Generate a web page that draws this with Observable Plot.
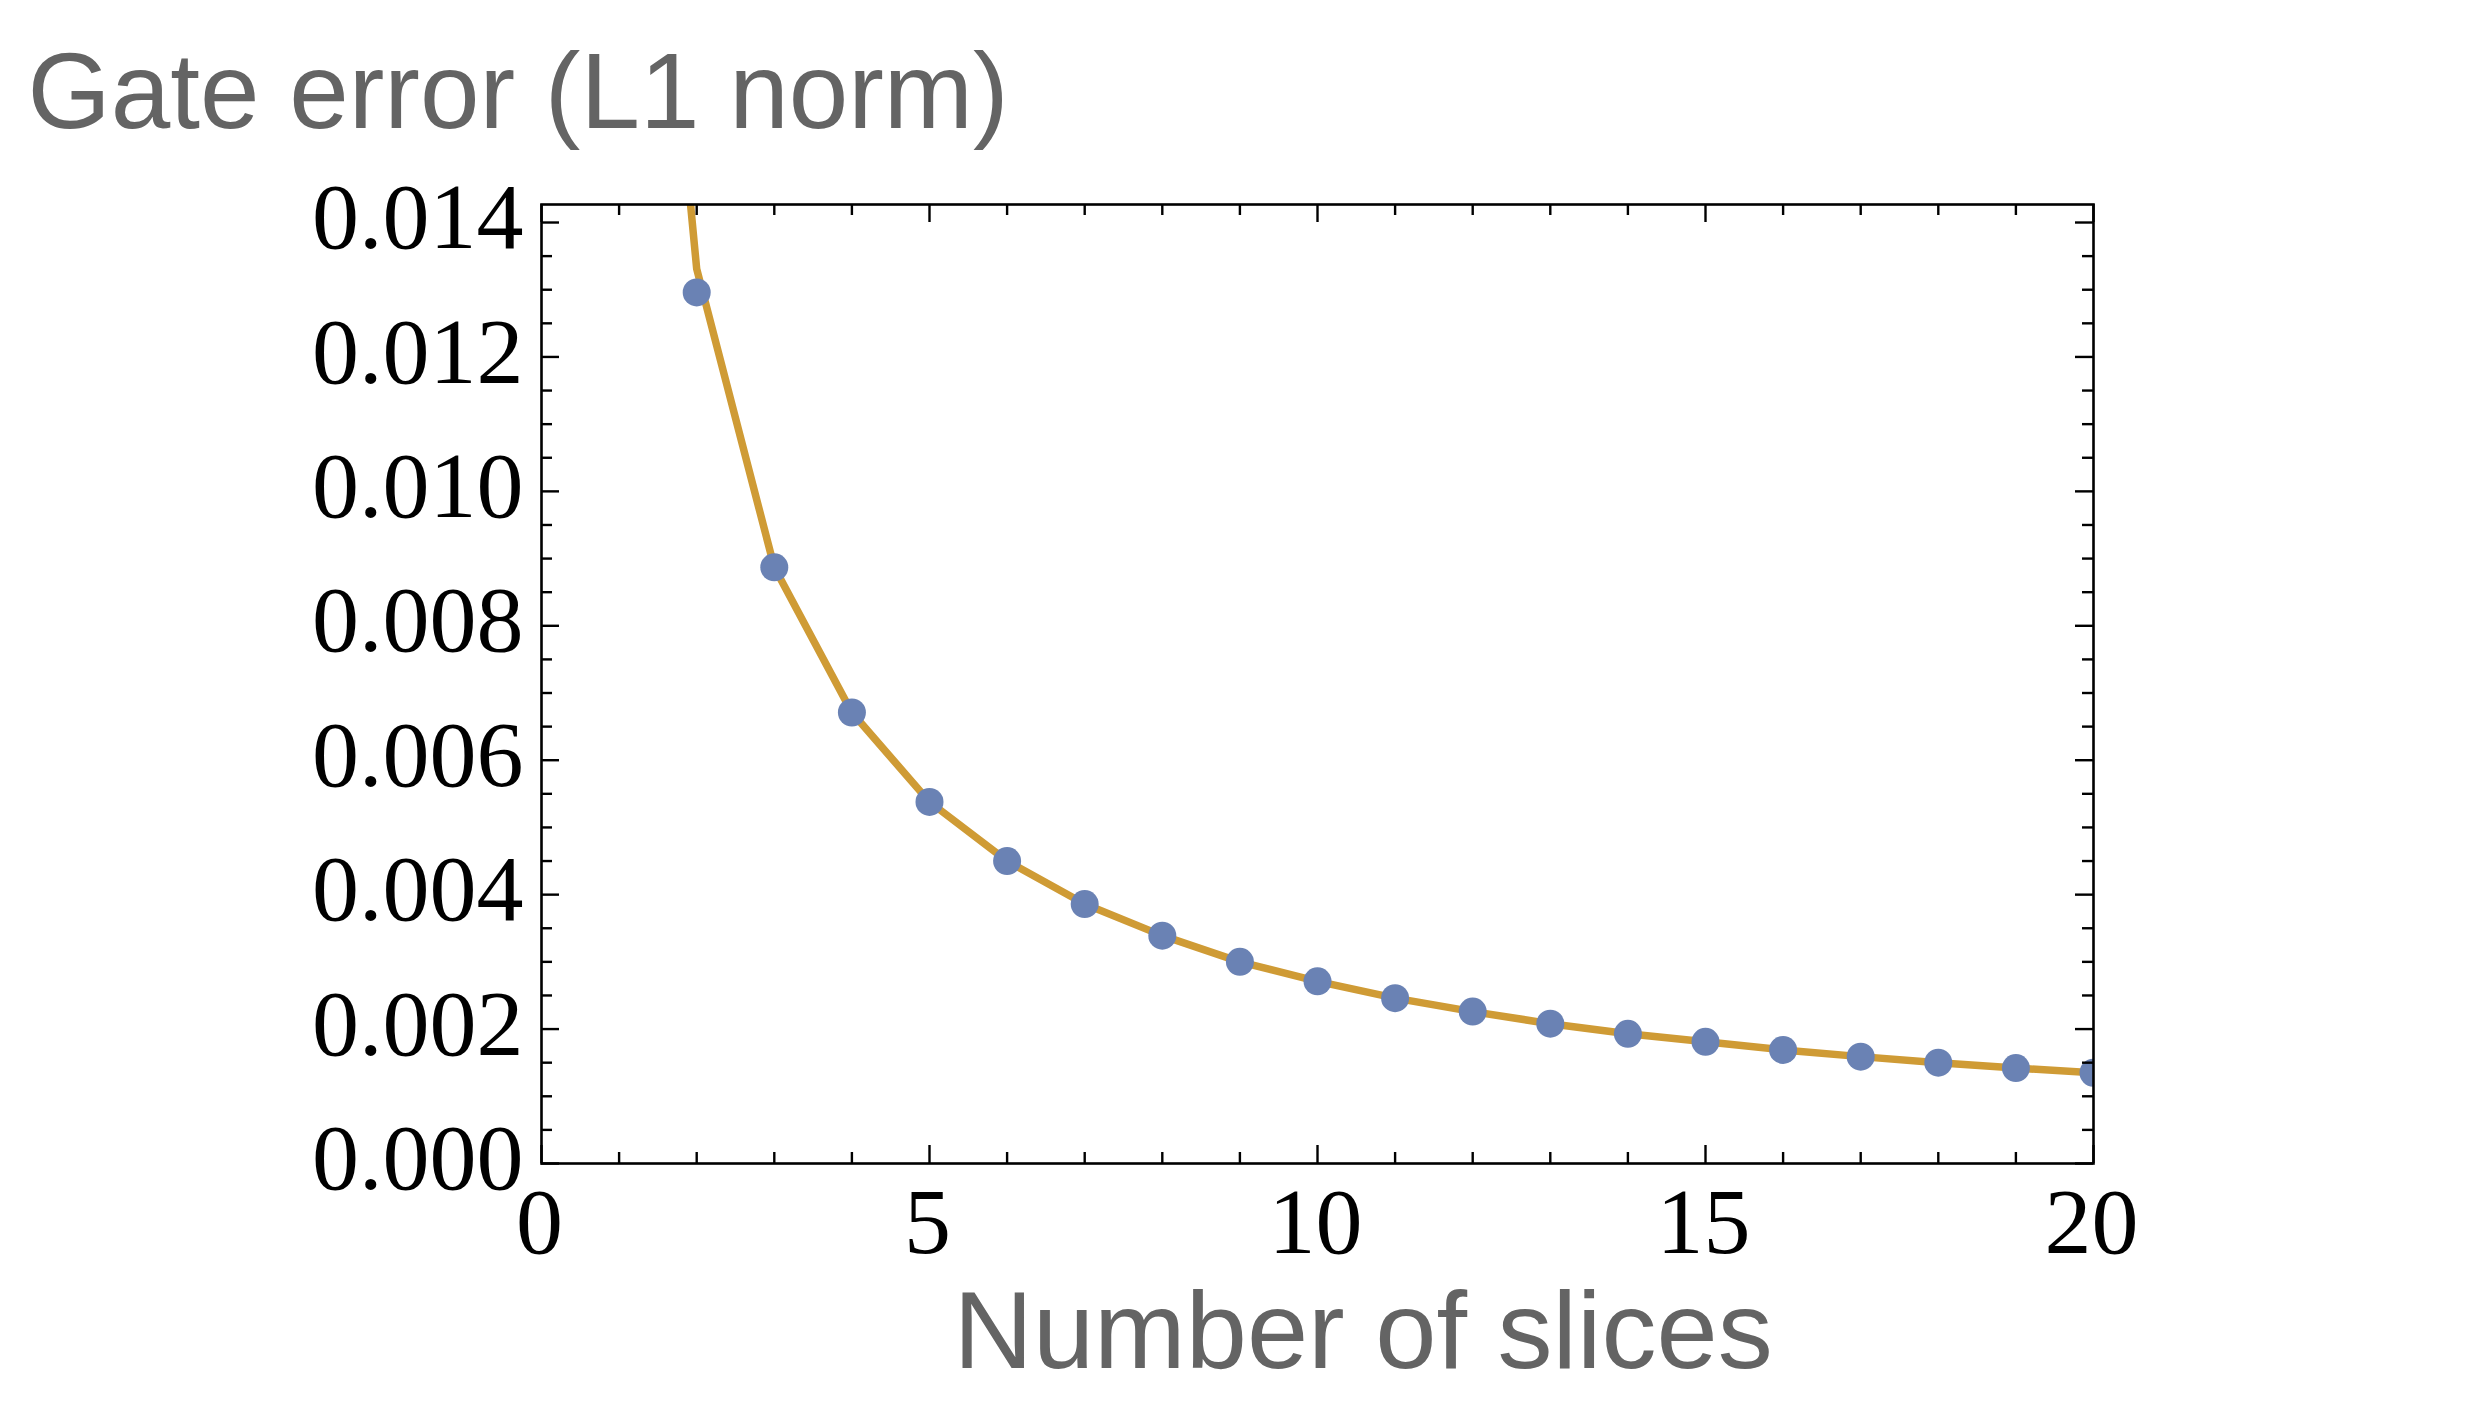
<!DOCTYPE html>
<html>
<head>
<meta charset="utf-8">
<script src="https://cdn.jsdelivr.net/npm/d3@7"></script>
<script src="https://cdn.jsdelivr.net/npm/@observablehq/plot@0.6"></script>
<style>
  html, body { margin: 0; padding: 0; background: #ffffff; }
  #chart svg { display: block; }
</style>
</head>
<body>
<div id="chart"></div>
<script>
// ---- data ----
const slices = [2, 3, 4, 5, 6, 7, 8, 9, 10, 11, 12, 13, 14, 15, 16, 17, 18, 19, 20];
const gateError = [0.01296, 0.00887, 0.00671, 0.00538, 0.00450, 0.00386, 0.00339, 0.00300, 0.00271,
                   0.00246, 0.00226, 0.00208, 0.00193, 0.00181, 0.00169, 0.00159, 0.00150, 0.00142, 0.00135];
const fitSlices = [1, 2, 3, 4, 5, 6, 7, 8, 9, 10, 11, 12, 13, 14, 15, 16, 17, 18, 19, 20];
const fitError = [0.0254, 0.01331, 0.00887, 0.00671, 0.00538, 0.00450, 0.00386, 0.00339, 0.00300, 0.00271,
                  0.00246, 0.00226, 0.00208, 0.00193, 0.00181, 0.00169, 0.00159, 0.00150, 0.00142, 0.00135];

const xMajorTicks = [0, 5, 10, 15, 20];
const xTickLabels = ["0", "5", "10", "15", "20"];
const xMinorTicks = [1, 2, 3, 4, 6, 7, 8, 9, 11, 12, 13, 14, 16, 17, 18, 19];
const yMajorTicks = [0, 0.002, 0.004, 0.006, 0.008, 0.010, 0.012, 0.014];
const yTickLabels = ["0.000", "0.002", "0.004", "0.006", "0.008", "0.010", "0.012", "0.014"];
const yMinorTicks = [0.0005, 0.0010, 0.0015, 0.0025, 0.0030, 0.0035, 0.0045, 0.0050, 0.0055,
                     0.0065, 0.0070, 0.0075, 0.0085, 0.0090, 0.0095, 0.0105, 0.0110, 0.0115,
                     0.0125, 0.0130, 0.0135];
const xDomain = [0, 20];
const yDomain = [0, 0.014268];

const titleText = "Gate error (L1 norm)";
const xLabelText = "Number of slices";

// ---- layout ----
const W = 2483, H = 1412;
const mL = 541, mR = 390, mT = 204, mB = 249;
const fW = W - mL - mR, fH = H - mT - mB;
const majorLen = 18, minorLen = 11;
const tickW = 2.4;

const points = slices.map((s, i) => ({x: s, y: gateError[i]}));
const fit = fitSlices.map((s, i) => ({x: s, y: fitError[i]}));

const serif = "'Liberation Serif', 'Times New Roman', serif";
const sans = "'Liberation Sans', Arial, Helvetica, sans-serif";

const chart = Plot.plot({
  width: W,
  height: H,
  marginLeft: mL,
  marginRight: mR,
  marginTop: mT,
  marginBottom: mB,
  style: {background: "#ffffff"},
  x: {domain: xDomain, axis: null},
  y: {domain: yDomain, axis: null},
  marks: [
    // data
    Plot.line(fit, {x: "x", y: "y", stroke: "#cf9b35", strokeWidth: 7.5, clip: true}),
    Plot.dot(points, {x: "x", y: "y", r: 14, fill: "#6a82b4", clip: true}),
    // inward ticks: bottom & top
    Plot.ruleX(xMajorTicks, {x: d => d, insetTop: fH - majorLen, stroke: "black", strokeWidth: tickW}),
    Plot.ruleX(xMinorTicks, {x: d => d, insetTop: fH - minorLen, stroke: "black", strokeWidth: tickW}),
    Plot.ruleX(xMajorTicks, {x: d => d, insetBottom: fH - majorLen, stroke: "black", strokeWidth: tickW}),
    Plot.ruleX(xMinorTicks, {x: d => d, insetBottom: fH - minorLen, stroke: "black", strokeWidth: tickW}),
    // inward ticks: left & right
    Plot.ruleY(yMajorTicks, {y: d => d, insetRight: fW - majorLen, stroke: "black", strokeWidth: tickW}),
    Plot.ruleY(yMinorTicks, {y: d => d, insetRight: fW - minorLen, stroke: "black", strokeWidth: tickW}),
    Plot.ruleY(yMajorTicks, {y: d => d, insetLeft: fW - majorLen, stroke: "black", strokeWidth: tickW}),
    Plot.ruleY(yMinorTicks, {y: d => d, insetLeft: fW - minorLen, stroke: "black", strokeWidth: tickW}),
    // frame
    Plot.frame({stroke: "black", strokeWidth: 2.6}),
    // tick labels
    Plot.text(yMajorTicks, {
      y: d => d, text: (d, i) => yTickLabels[i], frameAnchor: "left",
      textAnchor: "end", lineAnchor: "bottom", dx: -18, dy: 25.6,
      fontSize: 94, fontFamily: serif, fill: "black"
    }),
    Plot.text(xMajorTicks, {
      x: d => d, text: (d, i) => xTickLabels[i], frameAnchor: "bottom",
      textAnchor: "middle", lineAnchor: "bottom", dx: -2, dy: 89,
      fontSize: 94, fontFamily: serif, fill: "black"
    }),
    // titles
    Plot.text([titleText], {
      text: d => d, frameAnchor: "top-left", textAnchor: "start", lineAnchor: "bottom",
      dx: 27 - mL, dy: 127 - mT, fontSize: 107, fontFamily: sans, fill: "#646464"
    }),
    Plot.text([xLabelText], {
      text: d => d, frameAnchor: "bottom-left", textAnchor: "start", lineAnchor: "bottom",
      dx: 953 - mL, dy: 1367 - (H - mB), fontSize: 110, fontFamily: sans, fill: "#646464"
    })
  ]
});

document.getElementById("chart").appendChild(chart);
</script>
</body>
</html>
